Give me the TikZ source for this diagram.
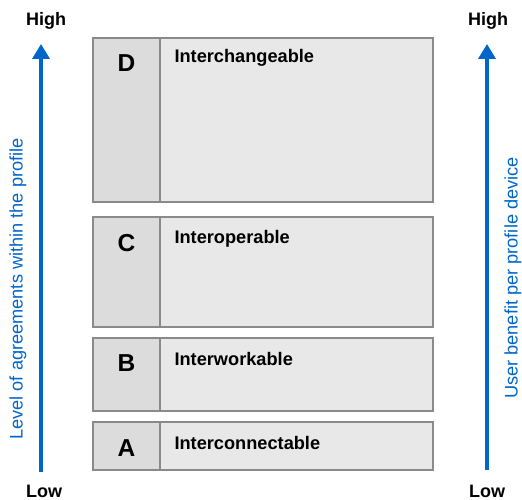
\documentclass[tikz,border=0pt]{standalone}
\usepackage{fontspec}
\setmainfont{Liberation Sans}
\usetikzlibrary{arrows.meta}
\definecolor{arrowblue}{HTML}{0066CC}
\definecolor{frame}{HTML}{8A8A8A}
\definecolor{tabfill}{HTML}{DCDCDC}
\definecolor{bodyfill}{HTML}{E8E8E8}
\begin{document}
\begin{tikzpicture}[x=1pt,y=-1pt,
  panel/.style={draw=frame,line width=2.2pt,fill=bodyfill},
  tab/.style={draw=frame,line width=2.2pt,fill=tabfill},
  letter/.style={font=\bfseries\fontsize{24.5}{28}\selectfont},
  title/.style={font=\bfseries\fontsize{18.2}{21}\selectfont,anchor=west},
  endlabel/.style={font=\bfseries\fontsize{18}{21}\selectfont},
  axislabel/.style={font=\fontsize{18.2}{21}\selectfont,text=arrowblue,rotate=90},
  axis/.style={draw=arrowblue,line width=3.6pt,-{Triangle[length=15pt,width=17pt]}}]
\useasboundingbox (0,0) rectangle (522,500);

% level panels: tab column on the left, body on the right
\draw[panel] (160,38) rectangle (433,202);
\draw[tab] (93,38) rectangle (160,202);
\draw[panel] (160,217) rectangle (433,327);
\draw[tab] (93,217) rectangle (160,327);
\draw[panel] (160,338) rectangle (433,411);
\draw[tab] (93,338) rectangle (160,411);
\draw[panel] (160,422) rectangle (433,470);
\draw[tab] (93,422) rectangle (160,470);

\node[letter] (ld) at (126.5,63) {D};
\node[letter] (lc) at (126.5,243) {C};
\node[letter] (lb) at (126.5,363) {B};
\node[letter] (la) at (126.5,448) {A};
\node[title] (td) at (171,58) {Interchangeable};
\node[title] (tc) at (171,239) {Interoperable};
\node[title] (tb) at (171,359) {Interworkable};
\node[title] (ta) at (171,443) {Interconnectable};

% axes
\node[endlabel] (lhigh) at (46,21) {High};
\node[endlabel] (llow) at (44,491) {Low};
\node[endlabel] (rhigh) at (488,21) {High};
\node[endlabel] (rlow) at (487,491) {Low};
\coordinate (lbot) at (41,472);
\coordinate (ltop) at (41,44);
\coordinate (rbot) at (487,470);
\coordinate (rtop) at (487,44);
\draw[axis] (lbot) -- (ltop);
\draw[axis] (rbot) -- (rtop);
\node[axislabel] (lax) at (18,289) {Level of agreements within the profile};
\node[axislabel] (rax) at (513,278) {User benefit per profile device};
\end{tikzpicture}
\end{document}
